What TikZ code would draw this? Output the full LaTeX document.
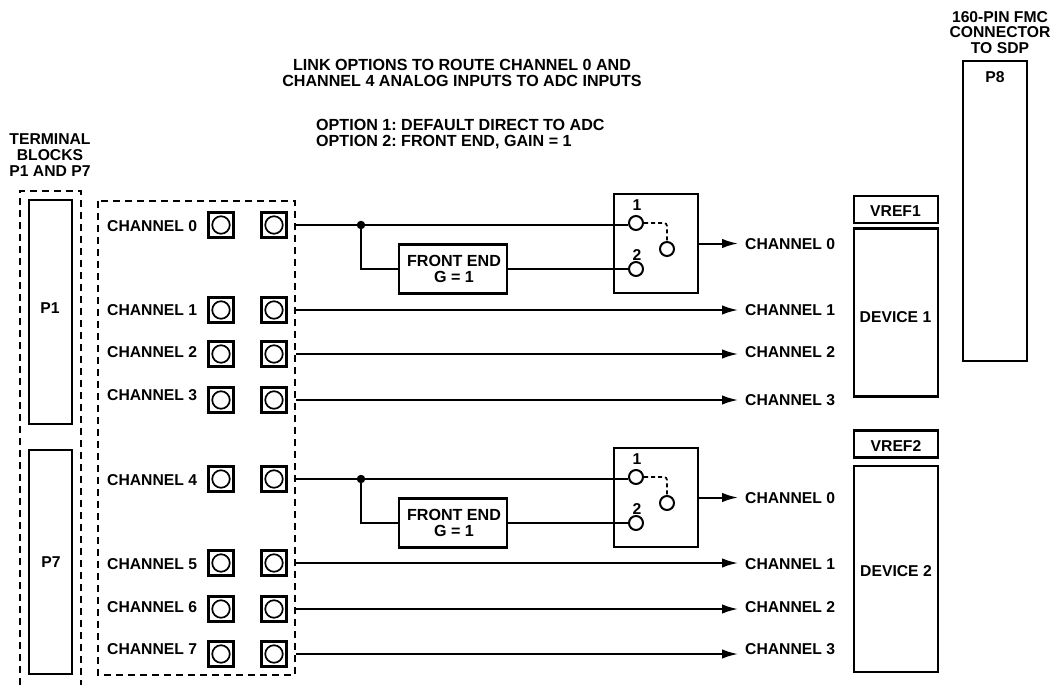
\documentclass[tikz,border=0pt]{standalone}
\usepackage{fontspec}
\setmainfont{Liberation Sans}
\frenchspacing
\usetikzlibrary{arrows.meta}
\tikzset{
 x=1pt,y=-1pt,
 ln/.style={line width=2pt},
 dsh/.style={line width=1.7pt,dash pattern=on 7pt off 5pt},
 bx/.style={draw,line width=2.1pt,inner sep=0pt},
 txt/.style={font=\bfseries\fontsize{15.7}{15.7}\selectfont,inner sep=0pt,align=center},
 bigtxt/.style={font=\bfseries\fontsize{16.1}{16}\selectfont,inner sep=0pt,align=center},
 lab/.style={txt,anchor=west},
 sq/.style={draw,line width=2.1pt,minimum size=25pt,inner sep=0pt},
 hole/.style={draw,line width=1.7pt,circle,minimum size=17.5pt,inner sep=0pt},
 sw/.style={draw,line width=2pt,circle,minimum size=14pt,inner sep=0pt,fill=white},
 arr/.style={ln,-{Latex[length=16pt,width=9.5pt]}},
 dot/.style={circle,fill=black,minimum size=8.5pt,inner sep=0pt},
}
% row: number, square/line y, label y
\newcommand{\mkrow}[3]{%
 \node[lab] (l#1) at (107,#3) {CHANNEL #1};
 \node[sq] (a#1) at (221,#2) {}; \node[hole] at (a#1) {};
 \node[sq] (b#1) at (274,#2) {}; \node[hole] at (b#1) {};
 \coordinate (s#1) at (296,#2);
}
% out: row number, label y, printed number
\newcommand{\mkout}[3]{%
 \coordinate (e#1) at (s#1 -| 738,0);
 \node[lab] (o#1) at (745,#2) {CHANNEL #3};
 \draw[arr] (s#1) -- (e#1);
}
% switch: row number, box top, output label y
\newcommand{\mkswitch}[3]{%
 \node[bx,minimum width=84pt,minimum height=99pt] (box#1) at (656,#2+49.5) {};
 \node[sw] (c#1a) at (636,#2+29) {};
 \node[sw] (c#1b) at (667,#2+55) {};
 \node[sw] (c#1c) at (636,#2+75) {};
 \node[txt] (n#1a) at (637,#2+11.5) {1};
 \node[txt] (n#1b) at (637,#2+61) {2};
 \draw[line width=1.7pt,dash pattern=on 4pt off 3pt,rounded corners=3pt] (c#1a.east) -| (c#1b.north);
 \coordinate (x#1) at (738,#2+49.5);
 \draw[arr] (box#1.east) -- (x#1);
 \node[lab] (y#1) at (745,#3) {CHANNEL 0};
 \node[bx,minimum width=108pt,minimum height=49pt] (fe#1) at (453.3,#2+75) {};
 \node[bigtxt] at (454,#2+74.5) {FRONT END\\G = 1};
 \node[dot] (j#1) at (s#1 -| 361,0) {};
 \draw[ln] (s#1) -- (s#1 -| c#1a.west);
 \draw[ln] (j#1) |- (fe#1.west);
 \draw[ln] (fe#1.east) -- (c#1c.west);
}
\begin{document}
\begin{tikzpicture}
\useasboundingbox (0,0) rectangle (1054,685);
\fill[white] (0,0) rectangle (1054,685);
% top texts
\node[txt] (t1) at (1000,32.3) {160-PIN FMC\\CONNECTOR\\TO SDP};
\node[bigtxt] (t2) at (462,73) {LINK OPTIONS TO ROUTE CHANNEL 0 AND\\CHANNEL 4 ANALOG INPUTS TO ADC INPUTS};
\node[bigtxt,align=left,anchor=west] (t3) at (316,134) {OPTION 1: DEFAULT DIRECT TO ADC\\OPTION 2: FRONT END, GAIN = 1};
\node[txt] (t4) at (50,155) {TERMINAL\\BLOCKS\\P1 AND P7};
% terminal blocks
\draw[dsh] (20,685) -- (20,191) -- (81,191) -- (81,685);
\node[bx,minimum width=43pt,minimum height=224pt] (P1) at (50.5,312) {};
\node[txt] (P1t) at (50,308.5) {P1};
\node[bx,minimum width=43pt,minimum height=224pt] (P7) at (50.5,562) {};
\node[txt] (P7t) at (51,562.5) {P7};
\draw[dsh] (98,201) rectangle (295,675);
% rows
\mkrow{0}{225}{226}\mkrow{1}{310}{310.5}\mkrow{2}{354}{352.5}\mkrow{3}{400}{395.5}
\mkrow{4}{479}{480.5}\mkrow{5}{563}{564.5}\mkrow{6}{609}{607}\mkrow{7}{654}{649}
\mkout{1}{310.5}{1}\mkout{2}{352.5}{2}\mkout{3}{400}{3}
\mkout{5}{564.5}{1}\mkout{6}{607}{2}\mkout{7}{649.5}{3}
\mkswitch{0}{194}{244.5}
\mkswitch{4}{448}{498.5}
% devices
\node[bx,minimum width=84pt,minimum height=27pt] (v1) at (896,209.5) {};
\node[txt] (v1t) at (895.5,211.5) {VREF1};
\node[bx,minimum width=84pt,minimum height=168pt] (d1) at (896,312.5) {};
\node[txt] (d1t) at (895.5,317) {DEVICE 1};
\node[bx,minimum width=84pt,minimum height=27pt] (v2) at (896,444) {};
\node[txt] (v2t) at (896,446) {VREF2};
\node[bx,minimum width=84pt,minimum height=206pt] (d2) at (896,569) {};
\node[txt] (d2t) at (896,571.5) {DEVICE 2};
\node[bx,minimum width=64pt,minimum height=300pt] (P8) at (995,211) {};
\node[txt] (p8t) at (995,77) {P8};
\end{tikzpicture}
\end{document}
